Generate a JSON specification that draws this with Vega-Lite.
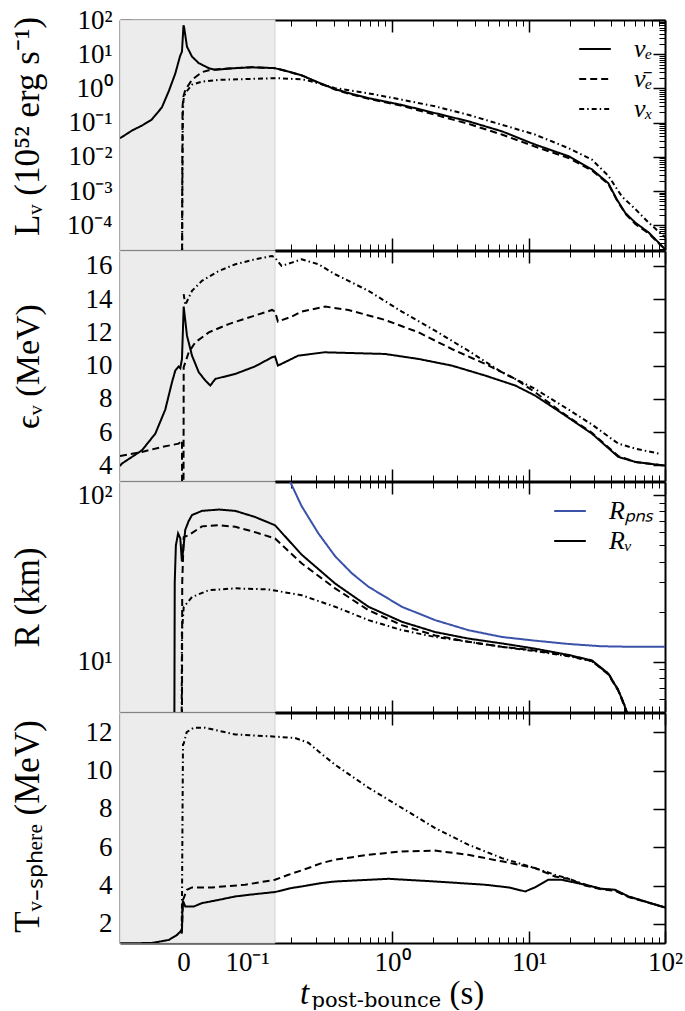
{
"$schema": "https://vega.github.io/schema/vega-lite/v6.json",
"padding": {"left": 9, "top": 6, "right": 2, "bottom": 0},
"config": {
  "font": "Liberation Serif",
  "view": {"stroke": null},
  "axis": {"domainColor": "black", "domainWidth": 2, "tickColor": "black", "grid": false, "labelFont": "Liberation Serif", "labelFontSize": 27, "labelColor": "black", "titleFont": "Liberation Serif", "titleFontWeight": "normal", "titleColor": "black", "zindex": 1, "labelOverlap": false, "labelFlush": false, "labelBound": false}
},
"datasets": {
  "shade": [{"a": -0.1, "b": 0.157}],
  "L": [
    {"s":"e","t":-0.1,"v":0.035},{"s":"e","t":-0.081,"v":0.059},{"s":"e","t":-0.065,"v":0.083},{"s":"e","t":-0.05,"v":0.123},{"s":"e","t":-0.034,"v":0.28},{"s":"e","t":-0.023,"v":0.85},{"s":"e","t":-0.013,"v":2.7},{"s":"e","t":-0.0055,"v":8.7},{"s":"e","t":-0.0024,"v":12},{"s":"e","t":0,"v":70},{"s":"e","t":0.001,"v":60},{"s":"e","t":0.0055,"v":16.6},{"s":"e","t":0.0134,"v":8.5},{"s":"e","t":0.024,"v":5.5},{"s":"e","t":0.04,"v":3.9},{"s":"e","t":0.05,"v":3.5},{"s":"e","t":0.08,"v":3.9},{"s":"e","t":0.108,"v":4.15},{"s":"e","t":0.15,"v":3.95},{"s":"e","t":0.157,"v":3.9},{"s":"e","t":0.194,"v":3.1},{"s":"e","t":0.24,"v":2.4},{"s":"e","t":0.265,"v":2.0},{"s":"e","t":0.318,"v":1.45},{"s":"e","t":0.406,"v":0.95},{"s":"e","t":0.53,"v":0.69},{"s":"e","t":0.69,"v":0.52},{"s":"e","t":1.18,"v":0.33},{"s":"e","t":2.07,"v":0.19},{"s":"e","t":3.63,"v":0.11},{"s":"e","t":6.35,"v":0.056},{"s":"e","t":11.1,"v":0.023},{"s":"e","t":19.6,"v":0.0105},{"s":"e","t":29.1,"v":0.0043},{"s":"e","t":38.5,"v":0.0017},{"s":"e","t":44.4,"v":0.00058},{"s":"e","t":51.1,"v":0.00023},{"s":"e","t":60.5,"v":0.00012},{"s":"e","t":75.9,"v":0.000062},{"s":"e","t":92.3,"v":0.000028},{"s":"e","t":100,"v":0.00002},
    {"s":"a","t":-0.0025,"v":1e-7},{"s":"a","t":-0.002,"v":0.001},{"s":"a","t":-0.0015,"v":0.3},{"s":"a","t":0,"v":0.59},{"s":"a","t":0.0028,"v":0.9},{"s":"a","t":0.0134,"v":1.8},{"s":"a","t":0.029,"v":3.0},{"s":"a","t":0.04,"v":3.4},{"s":"a","t":0.05,"v":3.6},{"s":"a","t":0.08,"v":3.95},{"s":"a","t":0.108,"v":4.15},{"s":"a","t":0.15,"v":3.95},{"s":"a","t":0.157,"v":3.9},{"s":"a","t":0.194,"v":3.1},{"s":"a","t":0.24,"v":2.4},{"s":"a","t":0.265,"v":2.0},{"s":"a","t":0.318,"v":1.42},{"s":"a","t":0.406,"v":0.92},{"s":"a","t":0.53,"v":0.66},{"s":"a","t":0.69,"v":0.5},{"s":"a","t":1.18,"v":0.31},{"s":"a","t":2.07,"v":0.17},{"s":"a","t":3.63,"v":0.093},{"s":"a","t":6.35,"v":0.045},{"s":"a","t":11.1,"v":0.02},{"s":"a","t":19.6,"v":0.0093},{"s":"a","t":29.1,"v":0.004},{"s":"a","t":38.5,"v":0.0016},{"s":"a","t":44.4,"v":0.00056},{"s":"a","t":51.1,"v":0.00022},{"s":"a","t":60.5,"v":0.00011},{"s":"a","t":75.9,"v":0.000058},{"s":"a","t":92.3,"v":0.000027},{"s":"a","t":100,"v":0.00002},
    {"s":"x","t":-0.0025,"v":1e-7},{"s":"x","t":-0.0018,"v":0.001},{"s":"x","t":-0.001,"v":0.2},{"s":"x","t":0,"v":0.47},{"s":"x","t":0.0028,"v":0.73},{"s":"x","t":0.0134,"v":1.29},{"s":"x","t":0.029,"v":1.58},{"s":"x","t":0.0555,"v":1.78},{"s":"x","t":0.092,"v":1.86},{"s":"x","t":0.157,"v":2.0},{"s":"x","t":0.24,"v":1.85},{"s":"x","t":0.265,"v":1.7},{"s":"x","t":0.318,"v":1.38},{"s":"x","t":0.406,"v":1.02},{"s":"x","t":0.69,"v":0.72},{"s":"x","t":1.18,"v":0.47},{"s":"x","t":2.07,"v":0.30},{"s":"x","t":3.63,"v":0.17},{"s":"x","t":6.35,"v":0.087},{"s":"x","t":11.1,"v":0.045},{"s":"x","t":19.6,"v":0.018},{"s":"x","t":29.1,"v":0.0083},{"s":"x","t":38.5,"v":0.0028},{"s":"x","t":48.3,"v":0.0007},{"s":"x","t":60.5,"v":0.0003},{"s":"x","t":75.9,"v":0.00012},{"s":"x","t":92.3,"v":0.00006},{"s":"x","t":100,"v":0.000045}
  ],
  "E": [
    {"s":"e","t":-0.1,"v":3.95},{"s":"e","t":-0.097,"v":4.1},{"s":"e","t":-0.0654,"v":4.9},{"s":"e","t":-0.0444,"v":5.9},{"s":"e","t":-0.0287,"v":7.35},{"s":"e","t":-0.0181,"v":9.0},{"s":"e","t":-0.0129,"v":9.7},{"s":"e","t":-0.0076,"v":9.95},{"s":"e","t":-0.005,"v":9.85},{"s":"e","t":-0.0024,"v":10.4},{"s":"e","t":0.0003,"v":13.55},{"s":"e","t":0.0055,"v":11.8},{"s":"e","t":0.0134,"v":10.6},{"s":"e","t":0.024,"v":9.6},{"s":"e","t":0.0344,"v":9.1},{"s":"e","t":0.0422,"v":8.8},{"s":"e","t":0.0502,"v":9.2},{"s":"e","t":0.0817,"v":9.5},{"s":"e","t":0.114,"v":9.95},{"s":"e","t":0.149,"v":10.5},{"s":"e","t":0.157,"v":10.55},{"s":"e","t":0.165,"v":10.0},{"s":"e","t":0.184,"v":10.2},{"s":"e","t":0.227,"v":10.6},{"s":"e","t":0.346,"v":10.8},{"s":"e","t":0.894,"v":10.7},{"s":"e","t":1.57,"v":10.4},{"s":"e","t":2.74,"v":10.0},{"s":"e","t":4.8,"v":9.4},{"s":"e","t":7.94,"v":8.8},{"s":"e","t":11.1,"v":8.2},{"s":"e","t":17.5,"v":7.15},{"s":"e","t":29.1,"v":5.9},{"s":"e","t":45.6,"v":4.5},{"s":"e","t":60.5,"v":4.2},{"s":"e","t":95,"v":4.0},{"s":"e","t":100,"v":3.98},
    {"s":"a","t":-0.1,"v":4.55},{"s":"a","t":-0.0654,"v":4.8},{"s":"a","t":-0.0339,"v":5.1},{"s":"a","t":-0.0076,"v":5.3},{"s":"a","t":-0.0024,"v":5.5},{"s":"a","t":-0.0022,"v":2.0},{"s":"a","t":0,"v":2.0},{"s":"a","t":0.0003,"v":9.9},{"s":"a","t":0.0082,"v":10.8},{"s":"a","t":0.0186,"v":11.4},{"s":"a","t":0.0398,"v":12.0},{"s":"a","t":0.0711,"v":12.5},{"s":"a","t":0.108,"v":12.95},{"s":"a","t":0.149,"v":13.35},{"s":"a","t":0.157,"v":13.25},{"s":"a","t":0.165,"v":12.65},{"s":"a","t":0.204,"v":12.95},{"s":"a","t":0.239,"v":13.25},{"s":"a","t":0.35,"v":13.55},{"s":"a","t":0.5,"v":13.35},{"s":"a","t":0.894,"v":12.75},{"s":"a","t":1.57,"v":12.0},{"s":"a","t":2.74,"v":11.0},{"s":"a","t":4.8,"v":10.1},{"s":"a","t":7.94,"v":9.2},{"s":"a","t":11.1,"v":8.4},{"s":"a","t":17.5,"v":7.2},{"s":"a","t":29.1,"v":5.95},{"s":"a","t":45.6,"v":4.55},{"s":"a","t":60.5,"v":4.2},{"s":"a","t":95,"v":4.0},{"s":"a","t":100,"v":3.98},
    {"s":"x","t":0.0003,"v":14.3},{"s":"x","t":0.0028,"v":13.65},{"s":"x","t":0.0134,"v":14.5},{"s":"x","t":0.029,"v":15.1},{"s":"x","t":0.0555,"v":15.7},{"s":"x","t":0.0817,"v":16.1},{"s":"x","t":0.114,"v":16.4},{"s":"x","t":0.149,"v":16.6},{"s":"x","t":0.157,"v":16.5},{"s":"x","t":0.175,"v":16.0},{"s":"x","t":0.204,"v":16.2},{"s":"x","t":0.239,"v":16.4},{"s":"x","t":0.312,"v":16.1},{"s":"x","t":0.406,"v":15.5},{"s":"x","t":0.69,"v":14.5},{"s":"x","t":1.18,"v":13.25},{"s":"x","t":2.07,"v":12.1},{"s":"x","t":3.63,"v":10.9},{"s":"x","t":6.35,"v":9.6},{"s":"x","t":11.1,"v":8.6},{"s":"x","t":19.6,"v":7.35},{"s":"x","t":29.1,"v":6.45},{"s":"x","t":45.6,"v":5.3},{"s":"x","t":60.5,"v":5.0},{"s":"x","t":90,"v":4.7}
  ],
  "R": [
    {"s":"e","t":-0.0145,"v":3.0},{"s":"e","t":-0.0138,"v":30},{"s":"e","t":-0.012,"v":50},{"s":"e","t":-0.0085,"v":59},{"s":"e","t":-0.005,"v":55},{"s":"e","t":-0.0025,"v":40},{"s":"e","t":-0.001,"v":45},{"s":"e","t":0.0028,"v":62},{"s":"e","t":0.0082,"v":70},{"s":"e","t":0.0134,"v":76},{"s":"e","t":0.029,"v":80.5},{"s":"e","t":0.0555,"v":82},{"s":"e","t":0.0817,"v":80.5},{"s":"e","t":0.114,"v":74},{"s":"e","t":0.157,"v":66},{"s":"e","t":0.239,"v":44},{"s":"e","t":0.406,"v":29.5},{"s":"e","t":0.69,"v":21.4},{"s":"e","t":1.18,"v":17.4},{"s":"e","t":2.07,"v":15.1},{"s":"e","t":3.63,"v":13.8},{"s":"e","t":6.35,"v":12.9},{"s":"e","t":11.1,"v":12.0},{"s":"e","t":19.6,"v":11.0},{"s":"e","t":29.1,"v":10.2},{"s":"e","t":38.5,"v":8.5},{"s":"e","t":45.6,"v":6.75},{"s":"e","t":49.9,"v":5.6},{"s":"e","t":52.5,"v":5.0},{"s":"e","t":54,"v":4.5},
    {"s":"a","t":-0.0025,"v":3.0},{"s":"a","t":-0.002,"v":30},{"s":"a","t":0.0003,"v":56},{"s":"a","t":0.0082,"v":57.5},{"s":"a","t":0.029,"v":65},{"s":"a","t":0.0555,"v":66},{"s":"a","t":0.0817,"v":64.6},{"s":"a","t":0.114,"v":60},{"s":"a","t":0.157,"v":55},{"s":"a","t":0.239,"v":39},{"s":"a","t":0.406,"v":27.6},{"s":"a","t":0.69,"v":20.4},{"s":"a","t":1.18,"v":16.6},{"s":"a","t":2.07,"v":14.4},{"s":"a","t":3.63,"v":13.2},{"s":"a","t":6.35,"v":12.3},{"s":"a","t":11.1,"v":11.7},{"s":"a","t":19.6,"v":10.9},{"s":"a","t":29.1,"v":10.1},{"s":"a","t":38.5,"v":8.4},{"s":"a","t":45.6,"v":6.7},{"s":"a","t":49.9,"v":5.5},{"s":"a","t":52.5,"v":4.9},{"s":"a","t":54,"v":4.4},
    {"s":"x","t":-0.003,"v":3.0},{"s":"x","t":-0.0025,"v":15},{"s":"x","t":0.0003,"v":21.3},{"s":"x","t":0.0134,"v":24.5},{"s":"x","t":0.0398,"v":26.9},{"s":"x","t":0.0817,"v":27.6},{"s":"x","t":0.141,"v":27.2},{"s":"x","t":0.239,"v":25.1},{"s":"x","t":0.406,"v":21.4},{"s":"x","t":0.69,"v":17.8},{"s":"x","t":1.18,"v":15.5},{"s":"x","t":2.07,"v":14.1},{"s":"x","t":3.63,"v":13.2},{"s":"x","t":6.35,"v":12.3},{"s":"x","t":11.1,"v":11.6},{"s":"x","t":19.6,"v":10.8},{"s":"x","t":29.1,"v":10.1},{"s":"x","t":38.5,"v":8.5},{"s":"x","t":45.6,"v":6.8},{"s":"x","t":49.9,"v":5.6},{"s":"x","t":52.5,"v":5.0},{"s":"x","t":54,"v":4.5},
    {"s":"p","t":0.195,"v":130},{"s":"p","t":0.199,"v":120},{"s":"p","t":0.239,"v":86},{"s":"p","t":0.312,"v":59},{"s":"p","t":0.406,"v":43},{"s":"p","t":0.53,"v":34},{"s":"p","t":0.69,"v":28.2},{"s":"p","t":1.18,"v":21.4},{"s":"p","t":2.07,"v":17.8},{"s":"p","t":3.63,"v":15.5},{"s":"p","t":6.35,"v":14.1},{"s":"p","t":11.1,"v":13.4},{"s":"p","t":19.6,"v":12.8},{"s":"p","t":34.4,"v":12.4},{"s":"p","t":60.5,"v":12.3},{"s":"p","t":100,"v":12.3}
  ],
  "T": [
    {"s":"e","t":-0.1,"v":0.98},{"s":"e","t":-0.05,"v":1.0},{"s":"e","t":-0.023,"v":1.16},{"s":"e","t":-0.0102,"v":1.42},{"s":"e","t":-0.005,"v":1.6},{"s":"e","t":-0.0024,"v":1.7},{"s":"e","t":-0.0015,"v":3.0},{"s":"e","t":-0.0008,"v":3.2},{"s":"e","t":0.0028,"v":2.9},{"s":"e","t":0.016,"v":2.9},{"s":"e","t":0.029,"v":3.08},{"s":"e","t":0.0555,"v":3.25},{"s":"e","t":0.0817,"v":3.43},{"s":"e","t":0.114,"v":3.55},{"s":"e","t":0.157,"v":3.66},{"s":"e","t":0.204,"v":3.87},{"s":"e","t":0.239,"v":3.95},{"s":"e","t":0.33,"v":4.13},{"s":"e","t":0.406,"v":4.21},{"s":"e","t":0.945,"v":4.35},{"s":"e","t":2.07,"v":4.21},{"s":"e","t":4.8,"v":4.04},{"s":"e","t":7.1,"v":3.9},{"s":"e","t":9.4,"v":3.69},{"s":"e","t":11.1,"v":3.9},{"s":"e","t":13.95,"v":4.3},{"s":"e","t":17.5,"v":4.3},{"s":"e","t":25.9,"v":4.04},{"s":"e","t":34.4,"v":3.83},{"s":"e","t":43.1,"v":3.78},{"s":"e","t":54.1,"v":3.43},{"s":"e","t":71.6,"v":3.17},{"s":"e","t":95,"v":2.9},{"s":"e","t":100,"v":2.85},
    {"s":"a","t":-0.003,"v":1.5},{"s":"a","t":-0.0024,"v":1.7},{"s":"a","t":-0.0008,"v":3.25},{"s":"a","t":0.0055,"v":3.78},{"s":"a","t":0.0134,"v":3.9},{"s":"a","t":0.045,"v":3.9},{"s":"a","t":0.097,"v":4.04},{"s":"a","t":0.157,"v":4.3},{"s":"a","t":0.194,"v":4.56},{"s":"a","t":0.266,"v":4.91},{"s":"a","t":0.33,"v":5.17},{"s":"a","t":0.406,"v":5.35},{"s":"a","t":0.69,"v":5.6},{"s":"a","t":1.18,"v":5.78},{"s":"a","t":2.07,"v":5.82},{"s":"a","t":3.63,"v":5.6},{"s":"a","t":6.35,"v":5.26},{"s":"a","t":11.1,"v":4.91},{"s":"a","t":15.6,"v":4.47},{"s":"a","t":19.6,"v":4.35},{"s":"a","t":25.9,"v":4.0},{"s":"a","t":34.4,"v":3.8},{"s":"a","t":43.1,"v":3.72},{"s":"a","t":54.1,"v":3.4},{"s":"a","t":71.6,"v":3.15},{"s":"a","t":95,"v":2.9},{"s":"a","t":100,"v":2.85},
    {"s":"x","t":-0.003,"v":1.5},{"s":"x","t":-0.0024,"v":3.0},{"s":"x","t":-0.0015,"v":8.0},{"s":"x","t":-0.0008,"v":11.36},{"s":"x","t":0.0003,"v":11.4},{"s":"x","t":0.005,"v":12.0},{"s":"x","t":0.016,"v":12.23},{"s":"x","t":0.034,"v":12.23},{"s":"x","t":0.0817,"v":11.88},{"s":"x","t":0.141,"v":11.79},{"s":"x","t":0.215,"v":11.7},{"s":"x","t":0.266,"v":11.45},{"s":"x","t":0.312,"v":11.0},{"s":"x","t":0.406,"v":10.3},{"s":"x","t":0.69,"v":9.1},{"s":"x","t":1.18,"v":8.05},{"s":"x","t":2.07,"v":7.0},{"s":"x","t":3.63,"v":6.13},{"s":"x","t":6.35,"v":5.43},{"s":"x","t":11.1,"v":4.91},{"s":"x","t":15.6,"v":4.56},{"s":"x","t":19.6,"v":4.35},{"s":"x","t":25.9,"v":4.05},{"s":"x","t":34.4,"v":3.82},{"s":"x","t":43.1,"v":3.75},{"s":"x","t":54.1,"v":3.42},{"s":"x","t":71.6,"v":3.16},{"s":"x","t":95,"v":2.9},{"s":"x","t":100,"v":2.85}
  ]
},
"vconcat": [
  {
    "width": 545, "height": 230,
    "data": {"name": "L"},
    "resolve": {"scale": {"x": "independent", "y": "independent"}, "axis": {"x": "independent", "y": "independent"}},
    "layer": [
      {"data": {"name": "shade"}, "mark": {"type": "rect", "fill": "#ebeceb", "stroke": "#d2d2d2", "strokeWidth": 1},
       "encoding": {"x": {"field": "a", "type": "quantitative", "axis": null, "scale": {"type":"linear","zero":false,"nice":false,"domain":[-0.1,0.1,0.12,0.15,0.2,0.25,0.3,0.4,0.5,0.6,0.7,0.8,0.9,1,1.2,1.5,2,2.5,3,4,5,6,7,8,9,10,12,15,20,25,30,40,50,60,70,80,90,100],"range":[0,127,138.5,152.5,170.6,184.7,196.2,214.3,228.4,239.8,249.5,257.9,265.4,272,282.9,296.1,313.2,326.5,337.4,354.5,367.8,378.6,387.8,395.7,402.7,409,419.8,432.9,449.9,463.1,473.9,490.9,504.1,514.8,523.9,531.8,538.8,545]}}, "x2": {"field": "b"},
                    "y": {"datum": 0, "type": "quantitative", "axis": null, "scale": {"domain": [0, 1], "nice": false, "zero": false}}, "y2": {"datum": 1}}},
      {"mark": {"type": "line", "clip": true, "strokeWidth": 2, "color": "black"},
       "encoding": {
         "x": {"field": "t", "type": "quantitative", "scale": {"type":"linear","zero":false,"nice":false,"domain":[-0.1,0.1,0.12,0.15,0.2,0.25,0.3,0.4,0.5,0.6,0.7,0.8,0.9,1,1.2,1.5,2,2.5,3,4,5,6,7,8,9,10,12,15,20,25,30,40,50,60,70,80,90,100],"range":[0,127,138.5,152.5,170.6,184.7,196.2,214.3,228.4,239.8,249.5,257.9,265.4,272,282.9,296.1,313.2,326.5,337.4,354.5,367.8,378.6,387.8,395.7,402.7,409,419.8,432.9,449.9,463.1,473.9,490.9,504.1,514.8,523.9,531.8,538.8,545]},
               "axis": {"orient": "bottom", "values": [0, 0.1, 1, 10, 100], "labels": false, "tickSize": -12, "tickWidth": 1.5, "title": null}},
         "y": {"field": "v", "type": "quantitative", "scale": {"type": "log", "domain": [1.9e-5, 100], "nice": false},
               "axis": {"orient": "left", "values": [1e-4, 1e-3, 1e-2, 0.1, 1, 10, 100], "tickSize": -12, "tickWidth": 1.5, "labelPadding": 20, "labelFont": "Liberation Serif",
                        "labelExpr": "datum.value < 0.0005 ? '10\u207b\u2074' : datum.value < 0.005 ? '10\u207b\u00b3' : datum.value < 0.05 ? '10\u207b\u00b2' : datum.value < 0.5 ? '10\u207b\u00b9' : datum.value < 5 ? '10\u2070' : datum.value < 50 ? '10\u00b9' : '10\u00b2'",
                        "title": "L\u1d65 (10\u2075\u00b2 erg s\u207b\u00b9)", "titleFontSize": 35, "titleX": -82, "titleY": 106, "titleAngle": -90, "titleAlign": "center", "titleBaseline": "alphabetic"}},
         "strokeDash": {"field": "s", "type": "nominal", "scale": {"domain": ["e", "a", "x"], "range": [[1, 0], [7, 4], [5, 3, 1.5, 3]]},
               "legend": {"orient": "top-right", "offset": 12, "title": null, "symbolType": "stroke", "symbolSize": 1000, "symbolStrokeWidth": 2, "symbolStrokeColor": "black", "labelFont": "Liberation Serif", "labelFontStyle": "italic", "labelFontSize": 26, "labelOffset": 22, "rowPadding": -3, "padding": 0,
                          "labelExpr": "datum.value == 'e' ? '\u03bd\u2091' : datum.value == 'a' ? '\u03bd\u0304\u2091' : '\u03bd\u2093'"}}
       }},
      {"mark": {"type": "point", "opacity": 0, "clip": true},
       "encoding": {
         "x": {"field": "t", "type": "quantitative", "scale": {"type":"linear","zero":false,"nice":false,"domain":[-0.1,0.1,0.12,0.15,0.2,0.25,0.3,0.4,0.5,0.6,0.7,0.8,0.9,1,1.2,1.5,2,2.5,3,4,5,6,7,8,9,10,12,15,20,25,30,40,50,60,70,80,90,100],"range":[0,127,138.5,152.5,170.6,184.7,196.2,214.3,228.4,239.8,249.5,257.9,265.4,272,282.9,296.1,313.2,326.5,337.4,354.5,367.8,378.6,387.8,395.7,402.7,409,419.8,432.9,449.9,463.1,473.9,490.9,504.1,514.8,523.9,531.8,538.8,545]},
               "axis": {"orient": "top", "values": [0, 0.1, 1, 10, 100], "labels": false, "tickSize": -12, "tickWidth": 1.5, "title": null}},
         "y": {"field": "v", "type": "quantitative", "scale": {"type": "log", "domain": [1.9e-5, 100], "nice": false},
               "axis": {"orient": "right", "values": [1e-4, 1e-3, 1e-2, 0.1, 1, 10, 100], "labels": false, "tickSize": -12, "tickWidth": 1.5, "title": null}}
       }},
      {"mark": {"type": "point", "opacity": 0, "clip": true},
       "encoding": {
         "x": {"field": "t", "type": "quantitative", "scale": {"type":"linear","zero":false,"nice":false,"domain":[-0.1,0.1,0.12,0.15,0.2,0.25,0.3,0.4,0.5,0.6,0.7,0.8,0.9,1,1.2,1.5,2,2.5,3,4,5,6,7,8,9,10,12,15,20,25,30,40,50,60,70,80,90,100],"range":[0,127,138.5,152.5,170.6,184.7,196.2,214.3,228.4,239.8,249.5,257.9,265.4,272,282.9,296.1,313.2,326.5,337.4,354.5,367.8,378.6,387.8,395.7,402.7,409,419.8,432.9,449.9,463.1,473.9,490.9,504.1,514.8,523.9,531.8,538.8,545]},
               "axis": {"orient": "bottom", "values": [-0.08,-0.06,-0.04,-0.02,0.02,0.04,0.06,0.08,0.2,0.3,0.4,0.5,0.6,0.7,0.8,0.9,2,3,4,5,6,7,8,9,20,30,40,50,60,70,80,90], "labels": false, "domain": false, "tickSize": -6, "tickWidth": 1, "title": null}},
         "y": {"field": "v", "type": "quantitative", "scale": {"type": "log", "domain": [1.9e-5, 100], "nice": false},
               "axis": {"orient": "left", "values": [2e-5,3e-5,4e-5,5e-5,6e-5,7e-5,8e-5,9e-5,2e-4,3e-4,4e-4,5e-4,6e-4,7e-4,8e-4,9e-4,2e-3,3e-3,4e-3,5e-3,6e-3,7e-3,8e-3,9e-3,0.02,0.03,0.04,0.05,0.06,0.07,0.08,0.09,0.2,0.3,0.4,0.5,0.6,0.7,0.8,0.9,2,3,4,5,6,7,8,9,20,30,40,50,60,70,80,90], "labels": false, "domain": false, "tickSize": -6, "tickWidth": 1, "title": null}}
       }},
      {"mark": {"type": "point", "opacity": 0, "clip": true},
       "encoding": {
         "x": {"field": "t", "type": "quantitative", "scale": {"type":"linear","zero":false,"nice":false,"domain":[-0.1,0.1,0.12,0.15,0.2,0.25,0.3,0.4,0.5,0.6,0.7,0.8,0.9,1,1.2,1.5,2,2.5,3,4,5,6,7,8,9,10,12,15,20,25,30,40,50,60,70,80,90,100],"range":[0,127,138.5,152.5,170.6,184.7,196.2,214.3,228.4,239.8,249.5,257.9,265.4,272,282.9,296.1,313.2,326.5,337.4,354.5,367.8,378.6,387.8,395.7,402.7,409,419.8,432.9,449.9,463.1,473.9,490.9,504.1,514.8,523.9,531.8,538.8,545]},
               "axis": {"orient": "top", "values": [-0.08,-0.06,-0.04,-0.02,0.02,0.04,0.06,0.08,0.2,0.3,0.4,0.5,0.6,0.7,0.8,0.9,2,3,4,5,6,7,8,9,20,30,40,50,60,70,80,90], "labels": false, "domain": false, "tickSize": -6, "tickWidth": 1, "title": null}},
         "y": {"field": "v", "type": "quantitative", "scale": {"type": "log", "domain": [1.9e-5, 100], "nice": false},
               "axis": {"orient": "right", "values": [2e-5,3e-5,4e-5,5e-5,6e-5,7e-5,8e-5,9e-5,2e-4,3e-4,4e-4,5e-4,6e-4,7e-4,8e-4,9e-4,2e-3,3e-3,4e-3,5e-3,6e-3,7e-3,8e-3,9e-3,0.02,0.03,0.04,0.05,0.06,0.07,0.08,0.09,0.2,0.3,0.4,0.5,0.6,0.7,0.8,0.9,2,3,4,5,6,7,8,9,20,30,40,50,60,70,80,90], "labels": false, "domain": false, "tickSize": -6, "tickWidth": 1, "title": null}}
       }}
    ]
  },
  {
    "width": 545, "height": 230,
    "data": {"name": "E"},
    "resolve": {"scale": {"x": "independent", "y": "independent"}, "axis": {"x": "independent", "y": "independent"}},
    "layer": [
      {"data": {"name": "shade"}, "mark": {"type": "rect", "fill": "#ebeceb", "stroke": "#d2d2d2", "strokeWidth": 1},
       "encoding": {"x": {"field": "a", "type": "quantitative", "axis": null, "scale": {"type":"linear","zero":false,"nice":false,"domain":[-0.1,0.1,0.12,0.15,0.2,0.25,0.3,0.4,0.5,0.6,0.7,0.8,0.9,1,1.2,1.5,2,2.5,3,4,5,6,7,8,9,10,12,15,20,25,30,40,50,60,70,80,90,100],"range":[0,127,138.5,152.5,170.6,184.7,196.2,214.3,228.4,239.8,249.5,257.9,265.4,272,282.9,296.1,313.2,326.5,337.4,354.5,367.8,378.6,387.8,395.7,402.7,409,419.8,432.9,449.9,463.1,473.9,490.9,504.1,514.8,523.9,531.8,538.8,545]}}, "x2": {"field": "b"},
                    "y": {"datum": 0, "type": "quantitative", "axis": null, "scale": {"domain": [0, 1], "nice": false, "zero": false}}, "y2": {"datum": 1}}},
      {"mark": {"type": "line", "clip": true, "strokeWidth": 2, "color": "black"},
       "encoding": {
         "x": {"field": "t", "type": "quantitative", "scale": {"type":"linear","zero":false,"nice":false,"domain":[-0.1,0.1,0.12,0.15,0.2,0.25,0.3,0.4,0.5,0.6,0.7,0.8,0.9,1,1.2,1.5,2,2.5,3,4,5,6,7,8,9,10,12,15,20,25,30,40,50,60,70,80,90,100],"range":[0,127,138.5,152.5,170.6,184.7,196.2,214.3,228.4,239.8,249.5,257.9,265.4,272,282.9,296.1,313.2,326.5,337.4,354.5,367.8,378.6,387.8,395.7,402.7,409,419.8,432.9,449.9,463.1,473.9,490.9,504.1,514.8,523.9,531.8,538.8,545]},
               "axis": {"orient": "bottom", "values": [0, 0.1, 1, 10, 100], "labels": false, "tickSize": -12, "tickWidth": 1.5, "title": null}},
         "y": {"field": "v", "type": "quantitative", "scale": {"type": "linear", "domain": [3.05, 16.9], "nice": false, "zero": false},
               "axis": {"orient": "left", "values": [4, 6, 8, 10, 12, 14, 16], "tickSize": -12, "tickWidth": 1.5, "labelPadding": 20, "labelFont": "Liberation Serif",
                        "title": "\u03f5\u1d65 (MeV)", "titleFontSize": 34, "titleX": -82, "titleY": 115, "titleAngle": -90, "titleAlign": "center", "titleBaseline": "alphabetic"}},
         "strokeDash": {"field": "s", "type": "nominal", "scale": {"domain": ["e", "a", "x"], "range": [[1, 0], [7, 4], [5, 3, 1.5, 3]]}, "legend": null}
       }},
      {"mark": {"type": "point", "opacity": 0, "clip": true},
       "encoding": {
         "x": {"field": "t", "type": "quantitative", "scale": {"type":"linear","zero":false,"nice":false,"domain":[-0.1,0.1,0.12,0.15,0.2,0.25,0.3,0.4,0.5,0.6,0.7,0.8,0.9,1,1.2,1.5,2,2.5,3,4,5,6,7,8,9,10,12,15,20,25,30,40,50,60,70,80,90,100],"range":[0,127,138.5,152.5,170.6,184.7,196.2,214.3,228.4,239.8,249.5,257.9,265.4,272,282.9,296.1,313.2,326.5,337.4,354.5,367.8,378.6,387.8,395.7,402.7,409,419.8,432.9,449.9,463.1,473.9,490.9,504.1,514.8,523.9,531.8,538.8,545]},
               "axis": {"orient": "top", "values": [0, 0.1, 1, 10, 100], "labels": false, "tickSize": -12, "tickWidth": 1.5, "title": null}},
         "y": {"field": "v", "type": "quantitative", "scale": {"type": "linear", "domain": [3.05, 16.9], "nice": false, "zero": false},
               "axis": {"orient": "right", "values": [4, 6, 8, 10, 12, 14, 16], "labels": false, "tickSize": -12, "tickWidth": 1.5, "title": null}}
       }},
      {"mark": {"type": "point", "opacity": 0, "clip": true},
       "encoding": {
         "x": {"field": "t", "type": "quantitative", "scale": {"type":"linear","zero":false,"nice":false,"domain":[-0.1,0.1,0.12,0.15,0.2,0.25,0.3,0.4,0.5,0.6,0.7,0.8,0.9,1,1.2,1.5,2,2.5,3,4,5,6,7,8,9,10,12,15,20,25,30,40,50,60,70,80,90,100],"range":[0,127,138.5,152.5,170.6,184.7,196.2,214.3,228.4,239.8,249.5,257.9,265.4,272,282.9,296.1,313.2,326.5,337.4,354.5,367.8,378.6,387.8,395.7,402.7,409,419.8,432.9,449.9,463.1,473.9,490.9,504.1,514.8,523.9,531.8,538.8,545]},
               "axis": {"orient": "bottom", "values": [-0.08,-0.06,-0.04,-0.02,0.02,0.04,0.06,0.08,0.2,0.3,0.4,0.5,0.6,0.7,0.8,0.9,2,3,4,5,6,7,8,9,20,30,40,50,60,70,80,90], "labels": false, "domain": false, "tickSize": -6, "tickWidth": 1, "title": null}},
         "y": {"field": "v", "type": "quantitative", "scale": {"type": "linear", "domain": [3.05, 16.9], "nice": false, "zero": false}, "axis": null}
       }},
      {"mark": {"type": "point", "opacity": 0, "clip": true},
       "encoding": {
         "x": {"field": "t", "type": "quantitative", "scale": {"type":"linear","zero":false,"nice":false,"domain":[-0.1,0.1,0.12,0.15,0.2,0.25,0.3,0.4,0.5,0.6,0.7,0.8,0.9,1,1.2,1.5,2,2.5,3,4,5,6,7,8,9,10,12,15,20,25,30,40,50,60,70,80,90,100],"range":[0,127,138.5,152.5,170.6,184.7,196.2,214.3,228.4,239.8,249.5,257.9,265.4,272,282.9,296.1,313.2,326.5,337.4,354.5,367.8,378.6,387.8,395.7,402.7,409,419.8,432.9,449.9,463.1,473.9,490.9,504.1,514.8,523.9,531.8,538.8,545]},
               "axis": {"orient": "top", "values": [-0.08,-0.06,-0.04,-0.02,0.02,0.04,0.06,0.08,0.2,0.3,0.4,0.5,0.6,0.7,0.8,0.9,2,3,4,5,6,7,8,9,20,30,40,50,60,70,80,90], "labels": false, "domain": false, "tickSize": -6, "tickWidth": 1, "title": null}},
         "y": {"field": "v", "type": "quantitative", "scale": {"type": "linear", "domain": [3.05, 16.9], "nice": false, "zero": false}, "axis": null}
       }}
    ]
  },
  {
    "width": 545, "height": 230,
    "data": {"name": "R"},
    "resolve": {"scale": {"x": "independent", "y": "independent"}, "axis": {"x": "independent", "y": "independent"}},
    "layer": [
      {"data": {"name": "shade"}, "mark": {"type": "rect", "fill": "#ebeceb", "stroke": "#d2d2d2", "strokeWidth": 1},
       "encoding": {"x": {"field": "a", "type": "quantitative", "axis": null, "scale": {"type":"linear","zero":false,"nice":false,"domain":[-0.1,0.1,0.12,0.15,0.2,0.25,0.3,0.4,0.5,0.6,0.7,0.8,0.9,1,1.2,1.5,2,2.5,3,4,5,6,7,8,9,10,12,15,20,25,30,40,50,60,70,80,90,100],"range":[0,127,138.5,152.5,170.6,184.7,196.2,214.3,228.4,239.8,249.5,257.9,265.4,272,282.9,296.1,313.2,326.5,337.4,354.5,367.8,378.6,387.8,395.7,402.7,409,419.8,432.9,449.9,463.1,473.9,490.9,504.1,514.8,523.9,531.8,538.8,545]}}, "x2": {"field": "b"},
                    "y": {"datum": 0, "type": "quantitative", "axis": null, "scale": {"domain": [0, 1], "nice": false, "zero": false}}, "y2": {"datum": 1}}},
      {"mark": {"type": "line", "clip": true, "strokeWidth": 2},
       "encoding": {
         "x": {"field": "t", "type": "quantitative", "scale": {"type":"linear","zero":false,"nice":false,"domain":[-0.1,0.1,0.12,0.15,0.2,0.25,0.3,0.4,0.5,0.6,0.7,0.8,0.9,1,1.2,1.5,2,2.5,3,4,5,6,7,8,9,10,12,15,20,25,30,40,50,60,70,80,90,100],"range":[0,127,138.5,152.5,170.6,184.7,196.2,214.3,228.4,239.8,249.5,257.9,265.4,272,282.9,296.1,313.2,326.5,337.4,354.5,367.8,378.6,387.8,395.7,402.7,409,419.8,432.9,449.9,463.1,473.9,490.9,504.1,514.8,523.9,531.8,538.8,545]},
               "axis": {"orient": "bottom", "values": [0, 0.1, 1, 10, 100], "labels": false, "tickSize": -12, "tickWidth": 1.5, "title": null}},
         "y": {"field": "v", "type": "quantitative", "scale": {"type": "log", "domain": [5, 120], "nice": false},
               "axis": {"orient": "left", "values": [10, 100], "tickSize": -12, "tickWidth": 1.5, "labelPadding": 20, "labelFont": "Liberation Serif",
                        "labelExpr": "datum.value < 50 ? '10\u00b9' : '10\u00b2'",
                        "title": "R (km)", "titleFontSize": 35, "titleX": -82, "titleY": 115, "titleAngle": -90, "titleAlign": "center", "titleBaseline": "alphabetic"}},
         "color": {"field": "s", "type": "nominal", "scale": {"domain": ["p", "e", "a", "x"], "range": ["#3a52a8", "black", "black", "black"]},
               "legend": {"values": ["p", "e"], "orient": "top-right", "offset": 12, "title": null, "symbolType": "stroke", "symbolSize": 1000, "symbolStrokeWidth": 2, "labelFont": "Liberation Serif", "labelFontStyle": "italic", "labelFontSize": 26, "labelOffset": 22, "rowPadding": -3, "padding": 0,
                          "labelExpr": "datum.value == 'p' ? 'R\u209a\u2099\u209b' : 'R\u1d65'"}},
         "strokeDash": {"field": "s", "type": "nominal", "scale": {"domain": ["e", "a", "x", "p"], "range": [[1, 0], [7, 4], [5, 3, 1.5, 3], [1, 0]]}, "legend": null}
       }},
      {"mark": {"type": "point", "opacity": 0, "clip": true},
       "encoding": {
         "x": {"field": "t", "type": "quantitative", "scale": {"type":"linear","zero":false,"nice":false,"domain":[-0.1,0.1,0.12,0.15,0.2,0.25,0.3,0.4,0.5,0.6,0.7,0.8,0.9,1,1.2,1.5,2,2.5,3,4,5,6,7,8,9,10,12,15,20,25,30,40,50,60,70,80,90,100],"range":[0,127,138.5,152.5,170.6,184.7,196.2,214.3,228.4,239.8,249.5,257.9,265.4,272,282.9,296.1,313.2,326.5,337.4,354.5,367.8,378.6,387.8,395.7,402.7,409,419.8,432.9,449.9,463.1,473.9,490.9,504.1,514.8,523.9,531.8,538.8,545]},
               "axis": {"orient": "top", "values": [0, 0.1, 1, 10, 100], "labels": false, "tickSize": -12, "tickWidth": 1.5, "title": null}},
         "y": {"field": "v", "type": "quantitative", "scale": {"type": "log", "domain": [5, 120], "nice": false},
               "axis": {"orient": "right", "values": [10, 100], "labels": false, "tickSize": -12, "tickWidth": 1.5, "title": null}}
       }},
      {"mark": {"type": "point", "opacity": 0, "clip": true},
       "encoding": {
         "x": {"field": "t", "type": "quantitative", "scale": {"type":"linear","zero":false,"nice":false,"domain":[-0.1,0.1,0.12,0.15,0.2,0.25,0.3,0.4,0.5,0.6,0.7,0.8,0.9,1,1.2,1.5,2,2.5,3,4,5,6,7,8,9,10,12,15,20,25,30,40,50,60,70,80,90,100],"range":[0,127,138.5,152.5,170.6,184.7,196.2,214.3,228.4,239.8,249.5,257.9,265.4,272,282.9,296.1,313.2,326.5,337.4,354.5,367.8,378.6,387.8,395.7,402.7,409,419.8,432.9,449.9,463.1,473.9,490.9,504.1,514.8,523.9,531.8,538.8,545]},
               "axis": {"orient": "bottom", "values": [-0.08,-0.06,-0.04,-0.02,0.02,0.04,0.06,0.08,0.2,0.3,0.4,0.5,0.6,0.7,0.8,0.9,2,3,4,5,6,7,8,9,20,30,40,50,60,70,80,90], "labels": false, "domain": false, "tickSize": -6, "tickWidth": 1, "title": null}},
         "y": {"field": "v", "type": "quantitative", "scale": {"type": "log", "domain": [5, 120], "nice": false},
               "axis": {"orient": "left", "values": [5,6,7,8,9,20,30,40,50,60,70,80,90], "labels": false, "domain": false, "tickSize": -6, "tickWidth": 1, "title": null}}
       }},
      {"mark": {"type": "point", "opacity": 0, "clip": true},
       "encoding": {
         "x": {"field": "t", "type": "quantitative", "scale": {"type":"linear","zero":false,"nice":false,"domain":[-0.1,0.1,0.12,0.15,0.2,0.25,0.3,0.4,0.5,0.6,0.7,0.8,0.9,1,1.2,1.5,2,2.5,3,4,5,6,7,8,9,10,12,15,20,25,30,40,50,60,70,80,90,100],"range":[0,127,138.5,152.5,170.6,184.7,196.2,214.3,228.4,239.8,249.5,257.9,265.4,272,282.9,296.1,313.2,326.5,337.4,354.5,367.8,378.6,387.8,395.7,402.7,409,419.8,432.9,449.9,463.1,473.9,490.9,504.1,514.8,523.9,531.8,538.8,545]},
               "axis": {"orient": "top", "values": [-0.08,-0.06,-0.04,-0.02,0.02,0.04,0.06,0.08,0.2,0.3,0.4,0.5,0.6,0.7,0.8,0.9,2,3,4,5,6,7,8,9,20,30,40,50,60,70,80,90], "labels": false, "domain": false, "tickSize": -6, "tickWidth": 1, "title": null}},
         "y": {"field": "v", "type": "quantitative", "scale": {"type": "log", "domain": [5, 120], "nice": false},
               "axis": {"orient": "right", "values": [5,6,7,8,9,20,30,40,50,60,70,80,90], "labels": false, "domain": false, "tickSize": -6, "tickWidth": 1, "title": null}}
       }}
    ]
  },
  {
    "width": 545, "height": 230,
    "data": {"name": "T"},
    "resolve": {"scale": {"x": "independent", "y": "independent"}, "axis": {"x": "independent", "y": "independent"}},
    "layer": [
      {"data": {"name": "shade"}, "mark": {"type": "rect", "fill": "#ebeceb", "stroke": "#d2d2d2", "strokeWidth": 1},
       "encoding": {"x": {"field": "a", "type": "quantitative", "axis": null, "scale": {"type":"linear","zero":false,"nice":false,"domain":[-0.1,0.1,0.12,0.15,0.2,0.25,0.3,0.4,0.5,0.6,0.7,0.8,0.9,1,1.2,1.5,2,2.5,3,4,5,6,7,8,9,10,12,15,20,25,30,40,50,60,70,80,90,100],"range":[0,127,138.5,152.5,170.6,184.7,196.2,214.3,228.4,239.8,249.5,257.9,265.4,272,282.9,296.1,313.2,326.5,337.4,354.5,367.8,378.6,387.8,395.7,402.7,409,419.8,432.9,449.9,463.1,473.9,490.9,504.1,514.8,523.9,531.8,538.8,545]}}, "x2": {"field": "b"},
                    "y": {"datum": 0, "type": "quantitative", "axis": null, "scale": {"domain": [0, 1], "nice": false, "zero": false}}, "y2": {"datum": 1}}},
      {"mark": {"type": "line", "clip": true, "strokeWidth": 2, "color": "black"},
       "encoding": {
         "x": {"field": "t", "type": "quantitative", "scale": {"type":"linear","zero":false,"nice":false,"domain":[-0.1,0.1,0.12,0.15,0.2,0.25,0.3,0.4,0.5,0.6,0.7,0.8,0.9,1,1.2,1.5,2,2.5,3,4,5,6,7,8,9,10,12,15,20,25,30,40,50,60,70,80,90,100],"range":[0,127,138.5,152.5,170.6,184.7,196.2,214.3,228.4,239.8,249.5,257.9,265.4,272,282.9,296.1,313.2,326.5,337.4,354.5,367.8,378.6,387.8,395.7,402.7,409,419.8,432.9,449.9,463.1,473.9,490.9,504.1,514.8,523.9,531.8,538.8,545]},
               "axis": {"orient": "bottom", "values": [0, 0.1, 1, 10, 100], "tickSize": -12, "tickWidth": 1.5, "labelPadding": 18, "labelFont": "Liberation Serif",
                        "labelExpr": "datum.value == 0 ? '0' : datum.value < 0.5 ? '10\u207b\u00b9' : datum.value < 5 ? '10\u2070' : datum.value < 50 ? '10\u00b9' : '10\u00b2'",
                        "title": "t", "titleFontSize": 33, "titleFontStyle": "italic", "titleX": 184, "titleY": 60, "titleAngle": 0, "titleAlign": "center", "titleBaseline": "alphabetic"}},
         "y": {"field": "v", "type": "quantitative", "scale": {"type": "linear", "domain": [1, 13], "nice": false, "zero": false},
               "axis": {"orient": "left", "values": [2, 4, 6, 8, 10, 12], "tickSize": -12, "tickWidth": 1.5, "labelPadding": 20, "labelFont": "Liberation Serif",
                        "title": "T\u1d65\u208b\u209b\u209a\u2095\u2091\u1d63\u2091 (MeV)", "titleFontSize": 35, "titleX": -82, "titleY": 113, "titleAngle": -90, "titleAlign": "center", "titleBaseline": "alphabetic"}},
         "strokeDash": {"field": "s", "type": "nominal", "scale": {"domain": ["e", "a", "x"], "range": [[1, 0], [7, 4], [5, 3, 1.5, 3]]}, "legend": null}
       }},
      {"mark": {"type": "point", "opacity": 0, "clip": true},
       "encoding": {
         "x": {"field": "t", "type": "quantitative", "scale": {"type":"linear","zero":false,"nice":false,"domain":[-0.1,0.1,0.12,0.15,0.2,0.25,0.3,0.4,0.5,0.6,0.7,0.8,0.9,1,1.2,1.5,2,2.5,3,4,5,6,7,8,9,10,12,15,20,25,30,40,50,60,70,80,90,100],"range":[0,127,138.5,152.5,170.6,184.7,196.2,214.3,228.4,239.8,249.5,257.9,265.4,272,282.9,296.1,313.2,326.5,337.4,354.5,367.8,378.6,387.8,395.7,402.7,409,419.8,432.9,449.9,463.1,473.9,490.9,504.1,514.8,523.9,531.8,538.8,545]},
               "axis": {"orient": "top", "values": [0, 0.1, 1, 10, 100], "labels": false, "tickSize": -12, "tickWidth": 1.5,
                        "title": "(s)", "titleFontSize": 33, "titleX": 329, "titleY": 290, "titleAngle": 0, "titleAlign": "left", "titleBaseline": "alphabetic"}},
         "y": {"field": "v", "type": "quantitative", "scale": {"type": "linear", "domain": [1, 13], "nice": false, "zero": false},
               "axis": {"orient": "right", "values": [2, 4, 6, 8, 10, 12], "labels": false, "tickSize": -12, "tickWidth": 1.5, "title": null}}
       }},
      {"mark": {"type": "point", "opacity": 0, "clip": true},
       "encoding": {
         "x": {"field": "t", "type": "quantitative", "scale": {"type":"linear","zero":false,"nice":false,"domain":[-0.1,0.1,0.12,0.15,0.2,0.25,0.3,0.4,0.5,0.6,0.7,0.8,0.9,1,1.2,1.5,2,2.5,3,4,5,6,7,8,9,10,12,15,20,25,30,40,50,60,70,80,90,100],"range":[0,127,138.5,152.5,170.6,184.7,196.2,214.3,228.4,239.8,249.5,257.9,265.4,272,282.9,296.1,313.2,326.5,337.4,354.5,367.8,378.6,387.8,395.7,402.7,409,419.8,432.9,449.9,463.1,473.9,490.9,504.1,514.8,523.9,531.8,538.8,545]},
               "axis": {"orient": "bottom", "values": [-0.08,-0.06,-0.04,-0.02,0.02,0.04,0.06,0.08,0.2,0.3,0.4,0.5,0.6,0.7,0.8,0.9,2,3,4,5,6,7,8,9,20,30,40,50,60,70,80,90], "labels": false, "domain": false, "tickSize": -6, "tickWidth": 1,
                        "title": "post-bounce", "titleFont": "DejaVu Serif", "titleFontSize": 21, "titleX": 191, "titleY": 63, "titleAngle": 0, "titleAlign": "left", "titleBaseline": "alphabetic"}},
         "y": {"field": "v", "type": "quantitative", "scale": {"type": "linear", "domain": [1, 13], "nice": false, "zero": false}, "axis": null}
       }},
      {"mark": {"type": "point", "opacity": 0, "clip": true},
       "encoding": {
         "x": {"field": "t", "type": "quantitative", "scale": {"type":"linear","zero":false,"nice":false,"domain":[-0.1,0.1,0.12,0.15,0.2,0.25,0.3,0.4,0.5,0.6,0.7,0.8,0.9,1,1.2,1.5,2,2.5,3,4,5,6,7,8,9,10,12,15,20,25,30,40,50,60,70,80,90,100],"range":[0,127,138.5,152.5,170.6,184.7,196.2,214.3,228.4,239.8,249.5,257.9,265.4,272,282.9,296.1,313.2,326.5,337.4,354.5,367.8,378.6,387.8,395.7,402.7,409,419.8,432.9,449.9,463.1,473.9,490.9,504.1,514.8,523.9,531.8,538.8,545]},
               "axis": {"orient": "top", "values": [-0.08,-0.06,-0.04,-0.02,0.02,0.04,0.06,0.08,0.2,0.3,0.4,0.5,0.6,0.7,0.8,0.9,2,3,4,5,6,7,8,9,20,30,40,50,60,70,80,90], "labels": false, "domain": false, "tickSize": -6, "tickWidth": 1, "title": null}},
         "y": {"field": "v", "type": "quantitative", "scale": {"type": "linear", "domain": [1, 13], "nice": false, "zero": false}, "axis": null}
       }}
    ]
  }
],
"spacing": -2,
"resolve": {"scale": {"strokeDash": "independent", "color": "independent"}}
}
